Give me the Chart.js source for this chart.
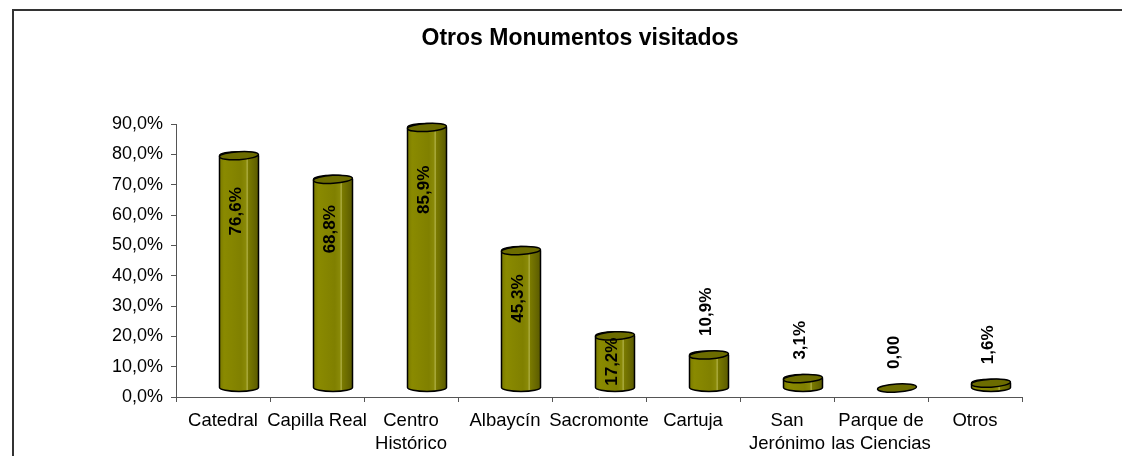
<!DOCTYPE html>
<html>
<head>
<meta charset="utf-8">
<script src="https://cdn.jsdelivr.net/npm/chart.js@4.4.1/dist/chart.umd.min.js"></script>
<style>
html,body{margin:0;padding:0;background:#fff;}
canvas{display:block;}
</style>
</head>
<body>
<canvas id="c" width="1122" height="456"></canvas>
<script>
const titleText = 'Otros Monumentos visitados';
const categories = ['Catedral', 'Capilla Real', ['Centro', 'Histórico'], 'Albaycín', 'Sacromonte', 'Cartuja', ['San', 'Jerónimo'], ['Parque de', 'las Ciencias'], 'Otros'];
const values = [76.6, 68.8, 85.9, 45.3, 17.2, 10.9, 3.1, 0.0, 1.6];
const valueLabels = ['76,6%', '68,8%', '85,9%', '45,3%', '17,2%', '10,9%', '3,1%', '0,00', '1,6%'];
const yMin = 0, yMax = 90, yStep = 10;

const FONT = "'Liberation Sans', Arial, sans-serif";
Chart.defaults.font.family = FONT;

const DX = 16, DY = -9;   // 3D depth offset

const framePlugin = {
  id: 'frame',
  beforeDraw(chart) {
    const ctx = chart.ctx;
    ctx.save();
    ctx.fillStyle = '#fff';
    ctx.fillRect(0, 0, chart.width, chart.height);
    ctx.strokeStyle = '#333';
    ctx.lineWidth = 2;
    ctx.beginPath();
    ctx.moveTo(13, chart.height);
    ctx.lineTo(13, 10);
    ctx.lineTo(chart.width, 10);
    ctx.stroke();
    ctx.fillStyle = '#000';
    ctx.font = "bold 23px " + FONT;
    ctx.textAlign = 'center';
    ctx.textBaseline = 'middle';
    ctx.fillText(titleText, 580, 39);
    ctx.restore();
  }
};

const cylPlugin = {
  id: 'cyl',
  beforeDatasetsDraw(chart) {
    chart.ctx.save();
    chart.ctx.translate(DX, DY);
  },
  afterDatasetsDraw(chart) {
    const ctx = chart.ctx;
    const meta = chart.getDatasetMeta(0);
    meta.data.forEach((el, i) => {
      const p = el.getProps(['x', 'y', 'base', 'width'], true);
      const x = p.x, y = p.y, base = p.base, w = p.width;
      const x0 = x - w / 2, x1 = x + w / 2, rx = w / 2, ry = 4;
      ctx.lineWidth = 1.5;
      ctx.strokeStyle = '#000';
      if (base - y > 0.5) {
        const g = ctx.createLinearGradient(x0, 0, x1, 0);
        g.addColorStop(0, '#7a7a00');
        g.addColorStop(0.12, '#8a8a00');
        g.addColorStop(0.55, '#808000');
        g.addColorStop(0.68, '#8a8a08');
        g.addColorStop(0.71, '#b4b44a');
        g.addColorStop(0.74, '#7a7a00');
        g.addColorStop(1, '#5a5a00');
        ctx.beginPath();
        ctx.moveTo(x0, y);
        ctx.lineTo(x0, base);
        ctx.ellipse(x, base, rx, ry, 0, Math.PI, 0, true);
        ctx.lineTo(x1, y);
        ctx.ellipse(x, y, rx, ry, 0, 0, Math.PI, true);
        ctx.closePath();
        ctx.fillStyle = g;
        ctx.fill();
        ctx.stroke();
      }
      ctx.beginPath();
      ctx.ellipse(x, y, rx, ry, -0.06, 0, Math.PI * 2);
      ctx.fillStyle = '#6c6c00';
      ctx.fill();
      ctx.stroke();

      // value label
      const h = base - y;
      ctx.save();
      ctx.fillStyle = '#000';
      ctx.font = "bold 17px " + FONT;
      ctx.textBaseline = 'middle';
      if (h >= 40) {
        const cy = Math.min(y + Math.max(48, 0.24 * h), (y + base) / 2);
        ctx.translate(x - 3, cy);
        ctx.rotate(-Math.PI / 2);
        ctx.textAlign = 'center';
        ctx.fillText(valueLabels[i], 0, 0);
      } else {
        ctx.translate(x - 3, y - 19);
        ctx.rotate(-Math.PI / 2);
        ctx.textAlign = 'left';
        ctx.fillText(valueLabels[i], 0, 0);
      }
      ctx.restore();
    });
    ctx.restore();
  }
};

new Chart(document.getElementById('c'), {
  type: 'bar',
  data: {
    labels: categories,
    datasets: [{
      data: values,
      backgroundColor: '#808000',
      borderWidth: 0,
      barThickness: 39
    }]
  },
  options: {
    responsive: false,
    animation: false,
    layout: { padding: { top: 124, left: 0, right: 100, bottom: 0 } },
    plugins: {
      legend: { display: false },
      title: { display: false },
      tooltip: { enabled: false }
    },
    scales: {
      x: {
        offset: true,
        grid: { drawOnChartArea: false, drawTicks: true, tickLength: 5, color: '#555', offset: true },
        border: { color: '#555', width: 1 },
        ticks: { color: '#000', font: { size: 18.5, lineHeight: 1.25 }, padding: 7, maxRotation: 0, autoSkip: false },
        afterFit(s) { s.height = 59; }
      },
      y: {
        min: yMin, max: yMax,
        grid: { drawOnChartArea: false, drawTicks: true, tickLength: 5, color: '#555' },
        border: { color: '#555', width: 1 },
        ticks: {
          stepSize: yStep, color: '#000', font: { size: 18 }, padding: 8,
          callback: v => v.toFixed(1).replace('.', ',') + '%'
        },
        afterFit(s) { s.width = 176; }
      }
    }
  },
  plugins: [framePlugin, cylPlugin]
});
</script>
</body>
</html>
